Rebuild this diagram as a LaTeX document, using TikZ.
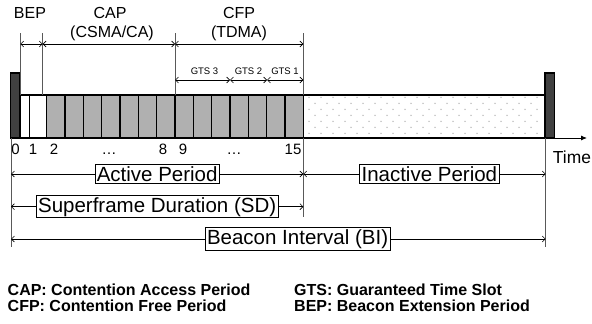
\documentclass[tikz,border=0pt]{standalone}
\usepackage{fontspec}
\setmainfont{Liberation Sans}
\usetikzlibrary{arrows.meta}

\tikzset{
  slot/.style={draw=black, line width=1.2pt, fill=black!31},
  freeslot/.style={draw=black, line width=1.2pt, fill=white},
  beacon/.style={draw=black, line width=1.2pt, fill=black!75},
  guide/.style={draw=black!65, line width=0.8pt},
  span/.style={{Straight Barb[length=3pt,width=6pt]}-{Straight Barb[length=3pt,width=6pt]}, line width=0.6pt},
  period/.style={draw, fill=white, line width=0.8pt, inner xsep=1.8pt, inner ysep=1.6pt, font=\fontsize{20.5}{22}\selectfont},
  toplabel/.style={anchor=base, inner sep=0pt, font=\fontsize{16}{17}\selectfont},
  gtslabel/.style={font=\fontsize{9.5}{10}\selectfont},
  number/.style={anchor=base, inner sep=0pt, font=\fontsize{15}{16}\selectfont},
  legend/.style={anchor=base west, inner sep=0pt, font=\bfseries\fontsize{16}{16}\selectfont},
}

\begin{document}
\begin{tikzpicture}[x=1pt, y=-1pt]
  \useasboundingbox (0,0) rectangle (592,324);

  % boundaries of the superframe
  \coordinate (bepL) at (20.3,33);
  \coordinate (bepR) at (42.7,33);
  \coordinate (cfpL) at (175,33);
  \coordinate (actR) at (303.3,33);
  \coordinate (bartop) at (0,95);
  \coordinate (toprow) at (0,44);
  \coordinate (gtsrow) at (0,80);
  \coordinate (gts2L) at (230,80);
  \coordinate (gts1L) at (267,80);
  \coordinate (bcnL) at (11,138);
  \coordinate (bcnR) at (545.7,138);
  \coordinate (axisEnd) at (587,138);
  \coordinate (rowA) at (0,174);
  \coordinate (rowS) at (0,206.7);
  \coordinate (rowB) at (0,239);
  \coordinate (lowEnd) at (0,247);

  % time axis
  \draw[-{Latex[length=6pt,width=5pt]}, line width=0.9pt] (bcnL) -- (axisEnd);
  \node[anchor=base, inner sep=0pt, font=\fontsize{17.4}{18}\selectfont] (timelbl) at (572,163) {Time};

  % inactive period
  \draw[line width=1.2pt, fill=white] (303.3,95) rectangle (545,138);
  \foreach \r in {0,...,6} {
    \pgfmathsetmacro{\xo}{309+6*mod(\r,2)}
    \foreach \c in {0,...,19} {
      \pgfmathsetmacro{\xd}{\xo+12*\c}
      \ifdim\xd pt<543pt
        \fill[black!30] (\xd,97.3+6*\r) circle (0.75pt);
      \fi
    }
  }

  % slots
  \draw[freeslot] (20.3,95) rectangle (29.3,138);
  \draw[freeslot] (29.3,95) rectangle (46.7,138);
  \foreach \i in {0,...,13}
    \draw[slot] (46.7+18.33*\i,95) rectangle ++(18.33,43);

  % beacons
  \draw[beacon] (10.5,73) rectangle (20,138);
  \draw[beacon] (545,73) rectangle (554.3,138);

  % upper guides and spans
  \draw[guide] (bepL) -- (bepL |- bartop);
  \draw[guide] (bepR) -- (bepR |- bartop);
  \draw[guide] (cfpL) -- (cfpL |- bartop);
  \draw[guide] (actR) -- (actR |- bartop);
  \draw[span] (bepL |- toprow) -- (bepR |- toprow);
  \draw[span] (bepR |- toprow) -- (cfpL |- toprow);
  \draw[span] (cfpL |- toprow) -- (actR |- toprow);
  \draw[span] (cfpL |- gtsrow) -- (gts2L);
  \draw[span] (gts2L) -- (gts1L);
  \draw[span] (gts1L) -- (actR |- gtsrow);

  \node[toplabel] (bep) at (30,18.5) {BEP};
  \node[toplabel] (cap) at (110,18.5) {CAP};
  \node[toplabel] (capmode) at (112,37) {(CSMA/CA)};
  \node[toplabel] (cfp) at (239,18.5) {CFP};
  \node[toplabel] (cfpmode) at (239,37) {(TDMA)};
  \node[gtslabel] (gts3) at (204.5,71) {GTS 3};
  \node[gtslabel] (gts2) at (248.5,71) {GTS 2};
  \node[gtslabel] (gts1) at (285,71) {GTS 1};

  % slot numbers
  \node[number] (n0) at (15.5,154) {0};
  \node[number] (n1) at (33,154) {1};
  \node[number] (n2) at (54,154) {2};
  \node[number] (nd1) at (109,154) {…};
  \node[number] (n8) at (163,154) {8};
  \node[number] (n9) at (183,154) {9};
  \node[number] (nd2) at (234,154) {…};
  \node[number] (n15) at (293,154) {15};

  % lower guides and periods
  \draw[guide] (bcnL) -- (bcnL |- lowEnd);
  \draw[guide] (actR |- bcnL) -- (303.3,216.7);
  \draw[guide] (bcnR) -- (bcnR |- lowEnd);
  \draw[span] (bcnL |- rowA) -- node[period] (active) {Active Period} (actR |- rowA);
  \draw[span] (actR |- rowA) -- node[period, pos=0.52] (inactive) {Inactive Period} (bcnR |- rowA);
  \draw[span] (bcnL |- rowS) -- node[period] (sd) {Superframe Duration (SD)} (actR |- rowS);
  \draw[span] (bcnL |- rowB) -- node[period, pos=0.536] (bi) {Beacon Interval (BI)} (bcnR |- rowB);

  % legend
  \node[legend] (capkey) at (7.5,295.7) {CAP: Contention Access Period};
  \node[legend] (cfpkey) at (7.5,311.7) {CFP: Contention Free Period};
  \node[legend] (gtskey) at (294,295.7) {GTS: Guaranteed Time Slot};
  \node[legend] (bepkey) at (294,311.7) {BEP: Beacon Extension Period};
\end{tikzpicture}
\end{document}
